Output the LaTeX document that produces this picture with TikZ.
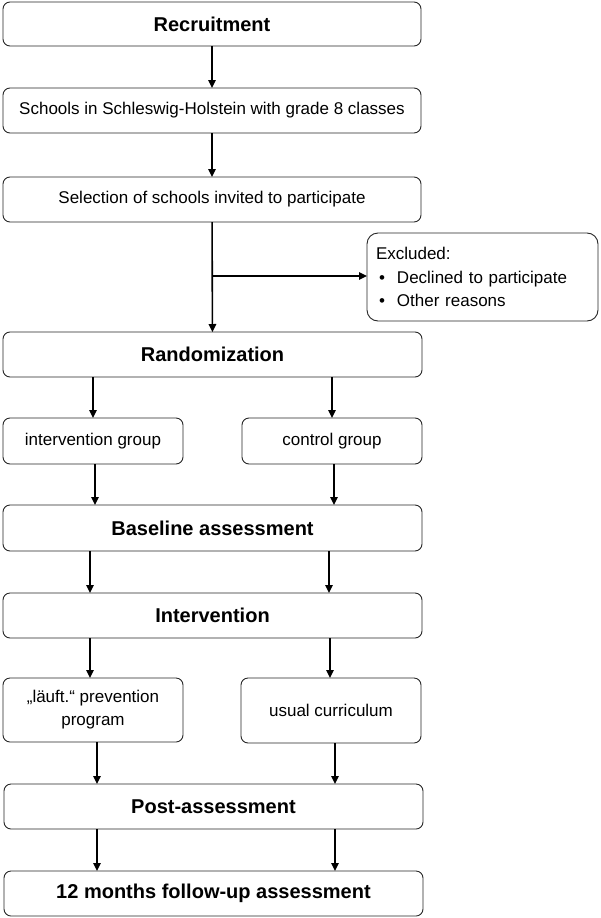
\documentclass[tikz,border=0pt]{standalone}
\usepackage{fontspec}
\setmainfont{Liberation Sans}
\usetikzlibrary{arrows.meta}
\begin{document}
\begin{tikzpicture}[x=1pt,y=-1pt,
  box/.style={draw=black!85, line width=0.9pt, rounded corners=7pt, inner sep=0pt, outer sep=0pt, align=center, font=\fontsize{17}{23}\selectfont},
  bigbox/.style={box, font=\fontsize{20}{24}\selectfont\bfseries},
  arr/.style={line width=1.6pt, -{Triangle[length=8pt,width=7.5pt]}}]
\useasboundingbox (0,0) rectangle (600,918);
% main column
\node[bigbox, minimum width=418pt, minimum height=44pt] (rec) at (212,24) {Recruitment};
\node[box, minimum width=418pt, minimum height=45pt] (sch) at (212,110.5) {Schools in Schleswig-Holstein with grade 8 classes};
\node[box, minimum width=418pt, minimum height=45pt] (sel) at (212,199.5) {Selection of schools invited to participate};
\node[box, rounded corners=11pt, minimum width=231pt, minimum height=88pt, text width=213pt, align=left, font=\fontsize{17}{23.5}\selectfont] (exc) at (482.5,277)
  {Excluded:\\\makebox[21pt][l]{\hspace{3pt}•}Declined to participate\\\makebox[21pt][l]{\hspace{3pt}•}Other reasons};
\node[bigbox, minimum width=419pt, minimum height=45pt] (rand) at (212.5,354.5) {Randomization};
\node[box, minimum width=180pt, minimum height=46pt] (igrp) at (93,441) {intervention group};
\node[box, minimum width=180pt, minimum height=46pt] (cgrp) at (332,441) {control group};
\node[bigbox, minimum width=419pt, minimum height=46pt] (base) at (212.5,528) {Baseline assessment};
\node[bigbox, minimum width=419pt, minimum height=45pt] (intv) at (212.5,615.5) {Intervention};
\node[box, minimum width=180pt, minimum height=64pt] (lauf) at (93,710) {„läuft.“ prevention\\program};
\node[box, minimum width=180pt, minimum height=65pt] (usual) at (331,710.5) {usual curriculum};
\node[bigbox, minimum width=419pt, minimum height=45pt] (post) at (213.5,806.5) {Post-assessment};
\node[bigbox, minimum width=419pt, minimum height=45pt] (fu) at (213.5,893.5) {12 months follow-up assessment};
% connectors
\draw[arr] (rec) -- (sch);
\draw[arr] (sch) -- (sel);
\draw[arr] (sel) -- (rand);
\coordinate (br) at (212,276);
\draw[arr] (br) -- (br -| exc.west);
\draw[arr] (rand.south -| igrp) -- (igrp);
\draw[arr] (rand.south -| cgrp) -- (cgrp);
\draw[arr] ([xshift=2pt]igrp.south) -- ([xshift=2pt]base.north -| igrp.south);
\draw[arr] ([xshift=2pt]cgrp.south) -- ([xshift=2pt]base.north -| cgrp.south);
\draw[arr] ([xshift=-3pt]base.south -| igrp) -- ([xshift=-3pt]intv.north -| igrp);
\draw[arr] ([xshift=-3pt]base.south -| cgrp) -- ([xshift=-3pt]intv.north -| cgrp);
\draw[arr] ([xshift=-3pt]intv.south -| lauf) -- ([xshift=-3pt]lauf.north);
\draw[arr] ([xshift=-1pt]intv.south -| usual) -- ([xshift=-1pt]usual.north);
\draw[arr] ([xshift=4pt]lauf.south) -- ([xshift=4pt]post.north -| lauf.south);
\draw[arr] ([xshift=4pt]usual.south) -- ([xshift=4pt]post.north -| usual.south);
\draw[arr] ([xshift=4pt]post.south -| lauf) -- ([xshift=4pt]fu.north -| lauf);
\draw[arr] ([xshift=4pt]post.south -| usual) -- ([xshift=4pt]fu.north -| usual);
\end{tikzpicture}
\end{document}
